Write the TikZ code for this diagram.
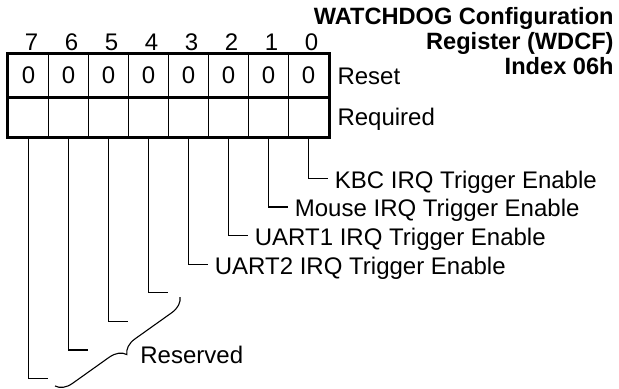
\documentclass[tikz,border=0pt]{standalone}
\usepackage{fontspec}
\setmainfont{Liberation Sans}
\usetikzlibrary{decorations.pathreplacing,positioning}
\newcommand{\regfont}{\fontsize{12pt}{14pt}\selectfont}
\newcommand{\headfont}{\fontsize{11.8pt}{13.5pt}\selectfont\bfseries}

\begin{document}
\begin{tikzpicture}[
    x=0.5pt, y=-0.5pt,
    cell/.style={draw, line width=0.6pt, minimum width=20pt, inner sep=0pt, font=\regfont},
    valcell/.style={cell, minimum height=21.5pt},
    reqcell/.style={cell, minimum height=20pt},
    frame/.style={line width=1.5pt},
    lead/.style={line width=0.55pt},
    txt/.style={inner sep=0pt, font=\regfont},
    head/.style={inner sep=0pt, font=\headfont, anchor=base east}
]
    \useasboundingbox (0,0) rectangle (619,388);

    % ---- title ----
    \node[head] (t1) at (614, 24) {WATCHDOG Configuration};
    \node[head] (t2) at (614, 49) {Register (WDCF)};
    \node[head] (t3) at (614, 74) {Index 06h};

    % ---- register cells ----
    \foreach \i in {0,...,7} {
        \node[valcell] (c\i) at ({28.5+40*(7-\i)}, 75.5) {0};
        \node[reqcell] (r\i) at ({28.5+40*(7-\i)}, 117.25) {};
        \node[txt, anchor=base] (b\i) at ({31.5+40*(7-\i)}, 50) {\i};
    }
    \draw[frame] (c7.north west) rectangle (r0.south east);
    \draw[frame] (c7.south west) -- (c0.south east);

    \node[txt, anchor=base west] (reset) at ([xshift=4pt]c0.east |- 0,84) {Reset};
    \node[txt, anchor=base west] (req) at ([xshift=4pt]r0.east |- 0,125) {Required};

    % ---- bit leaders ----
    \foreach \i in {0,...,7} {
        \draw[lead] (r\i.south) -- ++(0, {40.5+28.6*\i}) -- ++(19, 0) coordinate (e\i);
    }
    \node[txt, anchor=base west] (kbc) at ([xshift=3.5pt, yshift=-5pt]e0) {KBC IRQ Trigger Enable};
    \node[txt, anchor=base west] (mouse) at ([xshift=3.5pt, yshift=-5pt]e1) {Mouse IRQ Trigger Enable};
    \node[txt, anchor=base west] (uart1) at ([xshift=3.5pt, yshift=-5pt]e2) {UART1 IRQ Trigger Enable};
    \node[txt, anchor=base west] (uart2) at ([xshift=3.5pt, yshift=-5pt]e3) {UART2 IRQ Trigger Enable};

    % ---- reserved bits ----
    \coordinate (brtop) at (180, 297);
    \coordinate (brbot) at (55, 386);
    \draw[lead, decorate, decoration={brace, amplitude=8pt}] (brtop) -- (brbot);
    \node[txt, anchor=base west] (resv) at (140, 363) {Reserved};
\end{tikzpicture}
\end{document}
